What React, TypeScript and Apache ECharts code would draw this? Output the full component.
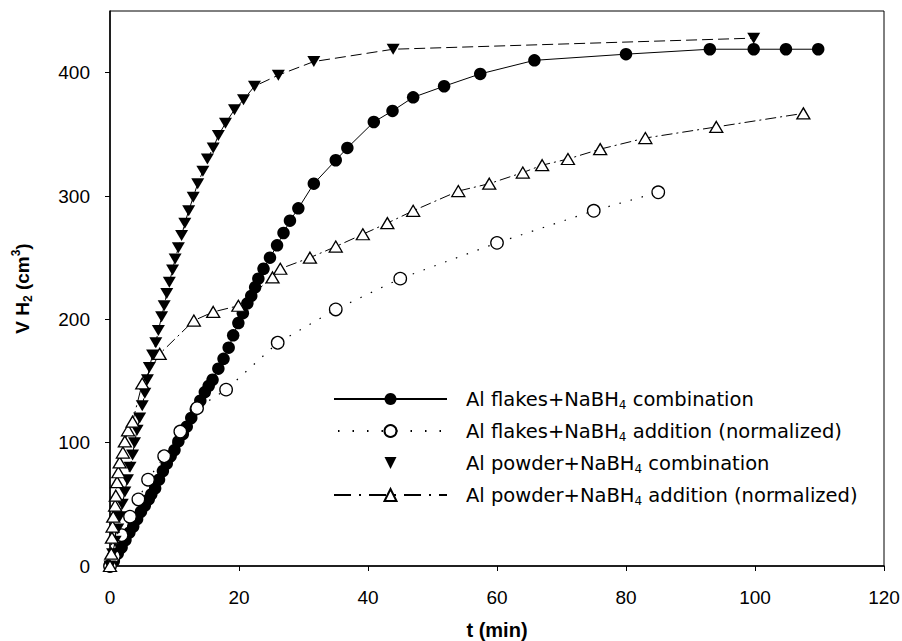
import React, { useEffect, useRef } from "react";
import * as echarts from "echarts";

// ---- data (t in min, V in cm3) ----
const flakesCombT = [0, 0.6, 1.2, 1.8, 2.4, 3.0, 3.6, 4.2, 4.8, 5.4, 6.0, 6.4, 7.0, 7.6, 8.2, 8.8, 9.4, 10.0, 10.6, 11.3, 11.9, 12.6, 13.3, 14.0, 14.7, 15.3, 15.9, 16.8, 17.6, 18.4, 19.1, 19.9, 20.6, 21.3, 21.9, 22.5, 23.0, 23.8, 24.8, 25.9, 26.9, 27.9, 29.2, 31.6, 35.0, 36.8, 40.9, 43.8, 47.0, 51.8, 57.4, 65.8, 80.0, 93.0, 99.8, 104.8, 109.8];
const flakesCombV = [0, 4, 10, 15, 21, 27, 32, 38, 44, 49, 54, 58, 63, 70, 77, 83, 89, 94, 101, 107, 113, 120, 127, 134, 141, 146, 151, 160, 168, 177, 187, 197, 205, 213, 219, 226, 233, 241, 250, 260, 270, 280, 290, 310, 329, 339, 360, 369, 380, 389, 399, 410, 415, 419, 419, 419, 419];

const flakesAddT = [0, 0.6, 1.8, 3.1, 4.4, 5.9, 8.4, 10.9, 13.5, 18.0, 26.0, 35.0, 45.0, 60.0, 75.0, 85.0];
const flakesAddV = [0, 8, 25, 40, 54, 70, 89, 109, 128, 143, 181, 208, 233, 262, 288, 303];

const powderCombT = [0, 0.4, 0.8, 1.2, 1.5, 1.9, 2.3, 2.7, 3.1, 3.5, 3.8, 4.2, 4.6, 5.0, 5.4, 5.8, 6.1, 6.6, 7.1, 7.5, 8.0, 8.4, 8.8, 9.2, 9.7, 10.1, 10.6, 11.1, 11.6, 12.2, 12.9, 13.6, 14.4, 15.1, 16.0, 16.8, 17.9, 19.3, 20.7, 22.4, 26.1, 31.6, 43.9, 99.8];
const powderCombV = [0, 10, 20, 30, 40, 50, 60, 70, 80, 90, 100, 110, 120, 130, 140, 151, 161, 171, 181, 191, 202, 211, 221, 230, 240, 249, 258, 268, 278, 288, 299, 310, 320, 330, 339, 349, 359, 370, 378, 389, 398, 409, 419, 428];

const powderAddT = [0, 0.2, 0.3, 0.4, 0.5, 0.8, 0.9, 1.1, 1.3, 1.5, 2.0, 2.3, 2.8, 3.5, 5.0, 7.7, 13.0, 16.0, 19.9, 25.2, 26.4, 31.0, 35.0, 39.2, 43.0, 47.0, 54.0, 58.8, 64.0, 67.0, 71.0, 76.0, 83.0, 94.0, 107.5];
const powderAddV = [0, 10, 23, 32, 40, 49, 57, 68, 76, 84, 92, 101, 110, 117, 148, 172, 199, 206, 211, 234, 241, 250, 259, 269, 278, 288, 304, 310, 319, 325, 330, 338, 347, 356, 367];

const seriesNames = [
  "Al flakes+NaBH4 combination",
  "Al flakes+NaBH4 addition (normalized)",
  "Al powder+NaBH4 combination",
  "Al powder+NaBH4 addition (normalized)",
];
const legendRich = [
  "{n|Al flakes+NaBH}{s|4}{n| combination}",
  "{n|Al flakes+NaBH}{s|4}{n| addition (normalized)}",
  "{n|Al powder+NaBH}{s|4}{n| combination}",
  "{n|Al powder+NaBH}{s|4}{n| addition (normalized)}",
];
const xTicks = [0, 20, 40, 60, 80, 100, 120];
const yTicks = [0, 100, 200, 300, 400];
const xTitle = "t (min)";
const yTitle = "{b|V H}{s|2}{b| (cm}{p|3}{b|)}";

const pairs = (t: number[], v: number[]) => t.map((x, i) => [x, v[i]]);

export default function App() {
  const ref = useRef<HTMLDivElement>(null);
  useEffect(() => {
    if (!ref.current) return;
    const chart = echarts.init(ref.current, null, { renderer: "svg" });
    const font = "'Liberation Sans', Arial, sans-serif";
    const legFont = "'DejaVu Sans', sans-serif";
    const fs = 19;
    const lfs = 19.5;
    const black = "#000";
    const downTri = "path://M0,0 L20,0 L10,17 Z";
    chart.setOption({
      animation: false,
      backgroundColor: "#fff",
      textStyle: { fontFamily: font },
      grid: {
        left: 110,
        right: 18,
        top: 11,
        bottom: 75,
        show: true,
        borderColor: black,
        borderWidth: 1,
        containLabel: false,
        outerBoundsMode: "none",
      },
      xAxis: {
        type: "value",
        min: xTicks[0],
        max: xTicks[xTicks.length - 1],
        interval: 20,
        name: xTitle,
        nameLocation: "middle",
        nameGap: 54,
        nameTextStyle: { fontSize: 20, fontWeight: "bold", color: black, fontFamily: font },
        axisLine: { show: true, onZero: false, lineStyle: { color: black, width: 1.5 } },
        axisTick: { show: true, inside: false, length: 5, lineStyle: { color: black, width: 1 } },
        axisLabel: { color: black, fontSize: fs, margin: 22, fontFamily: font },
        splitLine: { show: false },
      },
      yAxis: {
        type: "value",
        min: 0,
        max: 450,
        name: yTitle,
        nameLocation: "middle",
        nameRotate: 90,
        nameGap: 76,
        nameTextStyle: {
          color: black,
          rich: {
            b: { fontSize: fs, fontWeight: "bold", fontFamily: font, color: black, lineHeight: 24 },
            s: { fontSize: 12, fontWeight: "bold", fontFamily: font, color: black, verticalAlign: "bottom" },
            p: { fontSize: 12, fontWeight: "bold", fontFamily: font, color: black, verticalAlign: "top" },
          },
        },
        axisLine: { show: true, onZero: false, lineStyle: { color: black, width: 1.5 } },
        axisTick: { show: true, inside: false, length: 5, customValues: yTicks, lineStyle: { color: black, width: 1 } },
        axisLabel: { color: black, fontSize: fs, margin: 20, fontFamily: font, customValues: yTicks },
        splitLine: { show: false },
      },
      legend: {
        orient: "vertical",
        left: 328,
        top: 384,
        itemWidth: 113,
        itemHeight: 15,
        itemGap: 10.5,
        selectedMode: false,
        data: [
          { name: seriesNames[0] },
          { name: seriesNames[1], lineStyle: { type: [1.5, 13], dashOffset: -4 } },
          { name: seriesNames[2], lineStyle: { opacity: 0 } },
          { name: seriesNames[3], lineStyle: { type: [17, 8, 2, 8] } },
        ],
        formatter: (name: string) => legendRich[seriesNames.indexOf(name)],
        textStyle: {
          color: black,
          fontSize: lfs,
          fontFamily: legFont,
          padding: [0, 0, 0, 14],
          rich: {
            n: { fontSize: lfs, fontFamily: legFont, color: black, lineHeight: 23 },
            s: { fontSize: 12, fontFamily: legFont, color: black, verticalAlign: "bottom" },
          },
        },
      },
      series: [
        {
          name: seriesNames[0],
          type: "line",
          data: pairs(flakesCombT, flakesCombV),
          symbol: "circle",
          symbolSize: 12.5,
          itemStyle: { color: black },
          lineStyle: { color: black, width: 1, type: "solid" },
        },
        {
          name: seriesNames[1],
          type: "line",
          data: pairs(flakesAddT, flakesAddV),
          symbol: "circle",
          symbolSize: 12.5,
          itemStyle: { color: "#fff", borderColor: black, borderWidth: 1.3 },
          lineStyle: { color: black, width: 1.2, type: [1.5, 10] },
        },
        {
          name: seriesNames[2],
          type: "line",
          data: pairs(powderCombT, powderCombV),
          symbol: downTri,
          symbolSize: [13, 11],
          itemStyle: { color: black },
          lineStyle: { color: black, width: 1, type: [11, 5] },
        },
        {
          name: seriesNames[3],
          type: "line",
          data: pairs(powderAddT, powderAddV),
          symbol: "triangle",
          symbolSize: [13, 11],
          itemStyle: { color: "#fff", borderColor: black, borderWidth: 1.3 },
          lineStyle: { color: black, width: 1, type: [11, 4, 2, 4] },
        },
      ],
    });
    return () => chart.dispose();
  }, []);
  return <div ref={ref} style={{ position: "fixed", left: 0, top: 0, width: 902, height: 641 }} />;
}
